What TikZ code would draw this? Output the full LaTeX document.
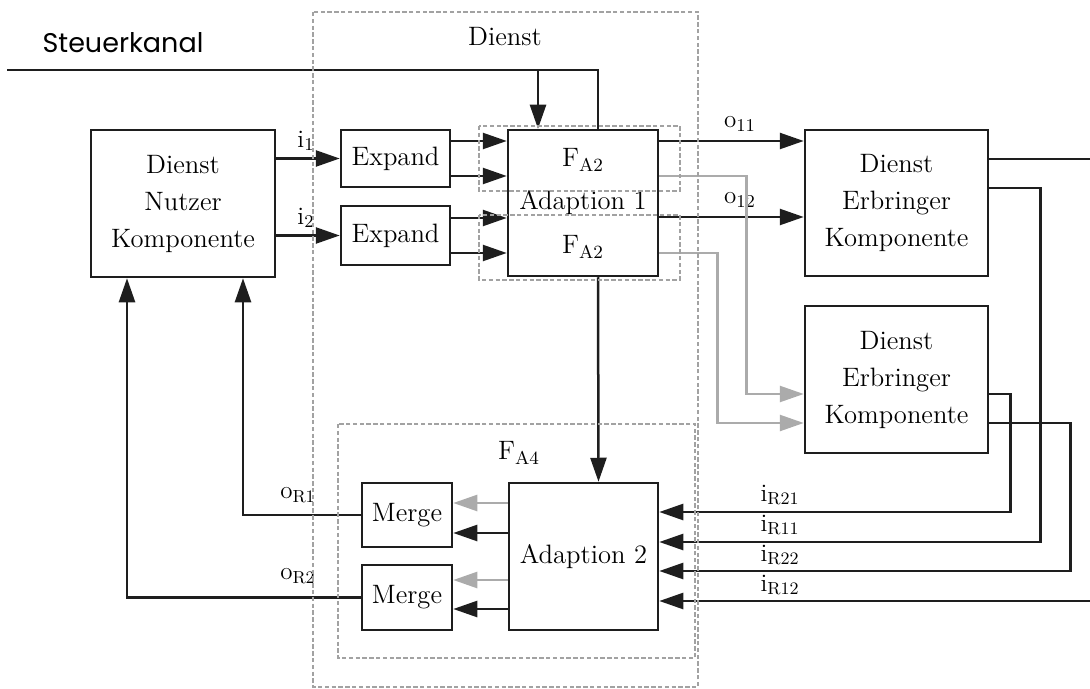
\documentclass[tikz,border=0pt]{standalone}
\usepackage{fontspec}
\usepackage{xcolor}
\usepackage{tikz}
\usetikzlibrary{positioning,arrows.meta,calc}
\newfontfamily\chansans{Poppins}
\definecolor{frameGray}{HTML}{A2A2A2}
\definecolor{backGray}{HTML}{ABABAB}
\definecolor{lineBlack}{HTML}{1E1E1E}

\begin{document}
\begin{tikzpicture}[
    x=0.5pt, y=-0.5pt,
    box/.style={draw=lineBlack, line width=1.25pt, font=\fontsize{13.3}{18.5}\selectfont, align=center, inner sep=0pt},
    lbl/.style={font=\fontsize{12.5}{14}\selectfont, inner sep=1pt},
    wire/.style={draw=lineBlack, line width=1.25pt},
    arrow/.style={wire, -{Triangle[length=12pt,width=8pt]}},
    back/.style={arrow, draw=backGray},
    frame/.style={draw=frameGray, line width=1.35pt, dash pattern=on 2.2pt off 1.2pt}
  ]
  \useasboundingbox (0,0) rectangle (1090,689);

  % Nutzer side
  \node[box, minimum width=92pt, minimum height=73.5pt] (nutzer) at (183,203.5) {Dienst\\Nutzer\\Komponente};
  \node[font=\chansans\fontsize{13.5}{15}\selectfont] (steuer) at (123,43) {Steuerkanal};

  % Dienst: Adaption 1
  \node[box, minimum width=54.5pt, minimum height=28.5pt] (exp1) at (395.5,158.5) {Expand};
  \node[box, minimum width=54.5pt, minimum height=29.5pt] (exp2) at (395.5,235.5) {Expand};
  \node[box, minimum width=75pt, minimum height=73pt] (ad1) at (583,203) {Adaption 1};
  \node[lbl, font=\fontsize{13.3}{15}\selectfont] (fa2a) at ([yshift=21.5pt]ad1.center) {F$_{\mathrm{A2}}$};
  \node[lbl, font=\fontsize{13.3}{15}\selectfont] (fa2b) at ([yshift=-22pt]ad1.center) {F$_{\mathrm{A2}}$};

  % Dienst: Adaption 2
  \node[box, minimum width=74.5pt, minimum height=73.5pt] (ad2) at (583.5,556.5) {Adaption 2};
  \node[box, minimum width=45pt, minimum height=32pt] (merge1) at (407,515) {Merge};
  \node[box, minimum width=45pt, minimum height=32.5pt] (merge2) at (407,597.5) {Merge};
  \node[lbl, font=\fontsize{13.3}{15}\selectfont] (fa4) at (519,453) {F$_{\mathrm{A4}}$};

  % Erbringer side
  \node[box, minimum width=91.5pt, minimum height=73pt] (erb1) at (896.5,203) {Dienst\\Erbringer\\Komponente};
  \node[box, minimum width=91.5pt, minimum height=73.5pt] (erb2) at (896.5,379.5) {Dienst\\Erbringer\\Komponente};

  % Steuerkanal
  \coordinate (skIn) at (7,70);
  \coordinate (skTap) at (538,70);
  \draw[wire] (skIn) -| ([xshift=7.5pt]ad1.north);
  \draw[arrow] (skTap) -- (skTap |- ad1.north);

  % requests
  \draw[arrow] (exp1.west -| nutzer.east) -- (exp1.west);
  \draw[arrow] (exp2.west -| nutzer.east) -- (exp2.west);
  \node[lbl] (li1) at (306,141) {i$_1$};
  \node[lbl] (li2) at (306,218) {i$_2$};
  \draw[arrow] ([yshift=8.75pt]exp1.east) -- ([yshift=8.75pt]exp1.east -| ad1.west);
  \draw[arrow] ([yshift=-8.75pt]exp1.east) -- ([yshift=-8.75pt]exp1.east -| ad1.west);
  \draw[arrow] ([yshift=8.75pt]exp2.east) -- ([yshift=8.75pt]exp2.east -| ad1.west);
  \draw[arrow] ([yshift=-8.75pt]exp2.east) -- ([yshift=-8.75pt]exp2.east -| ad1.west);
  \draw[arrow] ([yshift=31pt]ad1.east) -- ([yshift=31pt]ad1.east -| erb1.west);
  \draw[arrow] ([yshift=-7pt]ad1.east) -- ([yshift=-7pt]ad1.east -| erb1.west);
  \node[lbl] (lo11) at (740,124) {o$_{11}$};
  \node[lbl] (lo12) at (740,200) {o$_{12}$};
  \draw[back] ([yshift=13.5pt]ad1.east) -- ++(87,0) |- ([yshift=-7.25pt]erb2.west);
  \draw[back] ([yshift=-25pt]ad1.east) -- ++(58,0) |- ([yshift=-21.75pt]erb2.west);
  \draw[arrow] ([xshift=7.5pt]ad1.south) -- ([xshift=7.5pt]ad2.north);

  % responses
  \coordinate (outA) at (1090,159);
  \coordinate (inR12) at (1090,601);
  \draw[wire] ([yshift=22pt]erb1.east) -- (outA);
  \draw[arrow] ([yshift=7.5pt]erb1.east) -- ++(51,0) |- ([yshift=7.25pt]ad2.east);
  \draw[arrow] ([yshift=-7.25pt]erb2.east) -- ++(21,0) |- ([yshift=22.25pt]ad2.east);
  \draw[arrow] ([yshift=-21.75pt]erb2.east) -- ++(81,0) |- ([yshift=-7.25pt]ad2.east);
  \draw[arrow] (inR12) -- (inR12 -| ad2.east);
  \node[lbl] (lr21) at (780,495) {i$_{\mathrm{R21}}$};
  \node[lbl] (lr11) at (780,525) {i$_{\mathrm{R11}}$};
  \node[lbl] (lr22) at (780,555) {i$_{\mathrm{R22}}$};
  \node[lbl] (lr12) at (780,585) {i$_{\mathrm{R12}}$};

  % merge and back to Nutzer
  \draw[back] ([yshift=26.75pt]ad2.west) -- ([yshift=26.75pt]ad2.west -| merge1.east);
  \draw[arrow] ([yshift=11.75pt]ad2.west) -- ([yshift=11.75pt]ad2.west -| merge1.east);
  \draw[back] ([yshift=-11.75pt]ad2.west) -- ([yshift=-11.75pt]ad2.west -| merge2.east);
  \draw[arrow] ([yshift=-26.25pt]ad2.west) -- ([yshift=-26.25pt]ad2.west -| merge2.east);
  \draw[arrow] (merge1.west) -| ([xshift=30pt]nutzer.south);
  \draw[arrow] (merge2.west) -| ([xshift=-28pt]nutzer.south);
  \node[lbl] (lor1) at (298,495) {o$_{\mathrm{R1}}$};
  \node[lbl] (lor2) at (298,576) {o$_{\mathrm{R2}}$};

  % frames
  \draw[frame] (479,126) rectangle (680,191);
  \draw[frame] (479,215) rectangle (680,280);
  \draw[frame] (338,424) rectangle (695,658);
  \draw[frame] (313,12) rectangle (698,687);
  \node[lbl, font=\fontsize{13.3}{15}\selectfont] (dienst) at (505,37) {Dienst};
\end{tikzpicture}
\end{document}
